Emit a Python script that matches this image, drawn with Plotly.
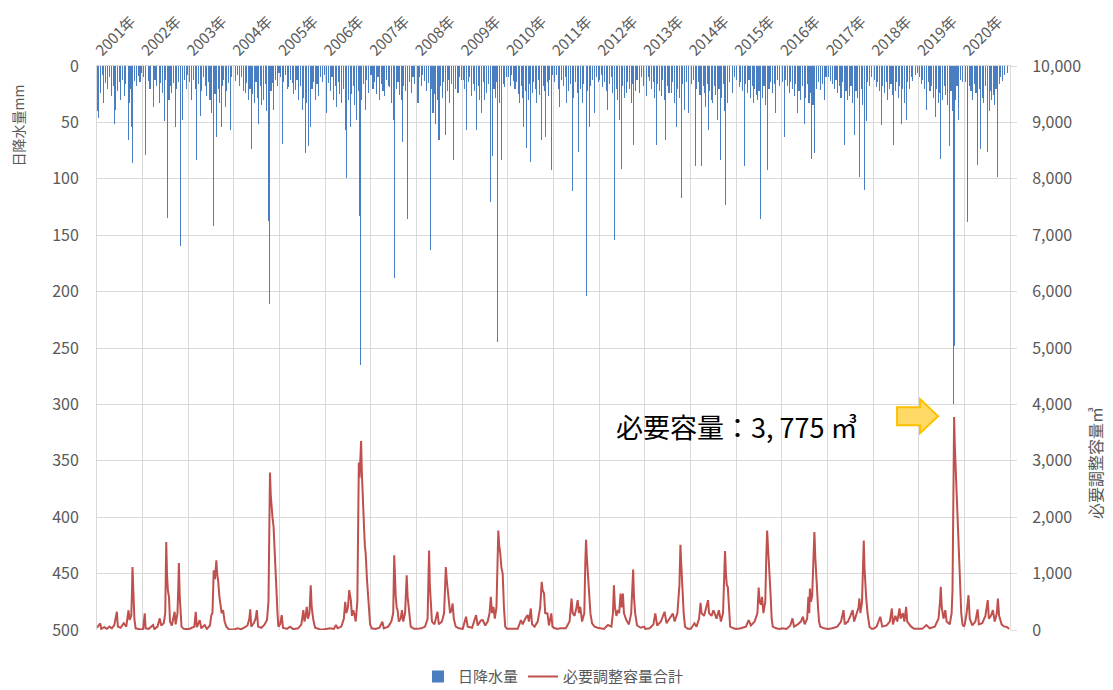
import pandas as pd
import plotly.graph_objects as go

# ---------------- data: daily rainfall events (day-of-year, mm) ----------------
rain_2001 = [(1,40),(16,46),(30,24),(42,8),(55,33),(70,15),(88,20),(100,10),(115,27),(130,18),(144,51),(152,39),(165,22),(178,14),(190,30),(205,12),(218,27),(232,16),(250,66),(258,33),(270,20),(280,54),(288,86),(300,13),(315,18),(330,9),(345,14),(358,6)]
rain_2002 = [(8,10),(27,79),(45,13),(60,20),(88,36),(100,12),(115,18),(133,33),(145,15),(160,24),(173,49),(185,12),(200,135),(212,30),(225,18),(235,24),(248,15),(261,54),(275,20),(290,14),(301,160),(320,48),(335,12),(350,20),(360,8)]
rain_2003 = [(10,14),(29,30),(45,12),(58,20),(70,83),(82,16),(96,44),(110,22),(125,10),(138,18),(150,27),(162,14),(175,30),(190,42),(203,142),(215,25),(229,63),(240,20),(252,33),(264,54),(275,18),(285,12),(296,36),(310,22),(323,15),(336,57),(350,10)]
rain_2004 = [(13,13),(28,8),(45,18),(60,10),(75,22),(93,24),(105,15),(118,30),(130,20),(141,74),(152,25),(165,33),(178,14),(190,28),(200,51),(212,18),(225,35),(240,30),(252,16),(265,40),(278,137),(285,211),(298,22),(310,15),(320,39),(335,12),(350,18),(362,6)]
rain_2005 = [(8,10),(21,69),(35,14),(50,8),(62,20),(75,19),(88,12),(101,15),(115,25),(128,21),(140,12),(152,30),(165,18),(181,39),(195,28),(208,77),(218,33),(229,71),(248,54),(260,20),(272,14),(285,30),(300,16),(315,27),(330,10),(345,14),(358,8)]
rain_2006 = [(14,42),(28,15),(40,22),(55,10),(68,30),(80,18),(94,36),(105,14),(118,25),(130,33),(145,20),(160,57),(173,99),(186,30),(200,54),(212,25),(225,18),(238,35),(254,48),(265,22),(275,133),(280,265),(290,30),(305,16),(320,39),(333,12),(347,24),(360,8)]
rain_2007 = [(5,8),(18,20),(30,14),(45,25),(58,10),(72,30),(85,16),(98,22),(112,27),(125,12),(140,18),(152,19),(165,33),(179,48),(192,188),(205,20),(218,14),(230,26),(243,30),(251,67),(265,18),(280,22),(296,136),(310,14),(323,24),(338,10),(352,16)]
rain_2008 = [(13,33),(25,10),(40,18),(52,8),(66,13),(80,22),(95,15),(112,163),(122,20),(133,42),(145,25),(154,51),(168,30),(181,66),(195,18),(208,28),(220,14),(234,61),(248,22),(256,12),(266,33),(280,16),(298,83),(312,20),(333,24),(348,10),(360,12)]
rain_2009 = [(10,12),(22,20),(35,57),(48,14),(60,10),(75,27),(88,16),(100,22),(115,57),(128,18),(140,30),(155,42),(168,14),(182,30),(195,24),(210,16),(227,121),(243,80),(255,20),(268,28),(278,14),(286,245),(298,33),(315,83),(328,16),(342,19),(356,10)]
rain_2010 = [(8,10),(20,18),(32,8),(45,13),(58,20),(70,14),(85,25),(98,33),(112,18),(122,28),(130,54),(140,22),(152,73),(165,30),(175,16),(186,85),(198,24),(210,14),(220,20),(232,33),(245,12),(258,26),(272,66),(285,18),(295,22),(306,63),(315,14),(325,27),(338,12),(352,92),(362,8)]
rain_2011 = [(10,14),(25,8),(40,20),(53,36),(66,12),(80,18),(95,10),(107,33),(120,22),(135,16),(152,111),(165,28),(178,14),(190,24),(205,76),(218,20),(232,33),(245,16),(262,204),(275,22),(288,54),(300,18),(315,12),(333,42),(348,10),(360,14)]
rain_2012 = [(8,12),(20,8),(32,19),(45,14),(58,22),(72,39),(85,16),(98,10),(112,24),(126,154),(138,20),(150,30),(165,48),(179,91),(190,18),(205,28),(219,24),(232,14),(245,20),(258,33),(268,16),(278,70),(290,22),(305,12),(325,24),(340,10),(355,18)]
rain_2013 = [(13,27),(28,10),(42,13),(55,20),(68,14),(80,28),(93,70),(105,16),(118,22),(133,27),(145,12),(156,30),(168,66),(180,18),(195,24),(213,24),(225,14),(238,33),(253,54),(265,20),(278,28),(293,117),(305,16),(320,39),(335,14),(354,42)]
rain_2014 = [(10,16),(25,12),(40,89),(52,20),(65,14),(78,26),(93,89),(105,18),(115,24),(125,36),(135,16),(144,57),(155,22),(168,30),(179,33),(192,18),(205,26),(219,48),(230,20),(240,83),(252,28),(265,16),(275,40),(285,123),(299,33),(315,14),(339,24),(355,10)]
rain_2015 = [(8,12),(27,19),(40,14),(52,22),(67,89),(80,16),(93,24),(105,12),(118,28),(130,18),(141,33),(152,20),(163,26),(173,30),(185,22),(200,136),(212,28),(225,18),(240,35),(253,92),(265,20),(280,14),(295,24),(308,16),(320,42),(335,12),(350,18)]
rain_2016 = [(10,14),(22,63),(35,12),(48,18),(62,24),(75,14),(88,20),(102,27),(115,16),(128,42),(140,22),(152,30),(165,18),(182,51),(195,28),(208,16),(220,33),(230,24),(240,82),(252,35),(267,77),(280,20),(295,14),(310,21),(325,16),(342,30),(356,10)]
rain_2017 = [(12,10),(26,13),(40,16),(55,20),(70,12),(85,24),(98,18),(110,28),(125,14),(138,70),(150,22),(163,30),(178,27),(190,18),(205,33),(218,61),(230,22),(245,28),(261,98),(272,20),(285,35),(298,110),(312,49),(325,14),(340,18),(355,10)]
rain_2018 = [(10,12),(27,19),(40,14),(55,22),(67,52),(80,18),(95,24),(108,14),(120,30),(133,20),(145,16),(155,26),(165,70),(178,22),(190,14),(202,28),(215,18),(227,51),(240,20),(252,33),(267,48),(280,14),(295,20),(308,10),(320,13),(340,8),(355,6)]
rain_2019 = [(8,10),(22,16),(35,12),(50,20),(67,39),(80,14),(92,22),(105,18),(118,28),(133,45),(145,20),(158,33),(168,24),(179,82),(192,30),(205,18),(218,26),(232,35),(248,71),(260,22),(270,40),(282,300),(285,248),(295,30),(308,18),(320,48),(335,12),(350,14)]
rain_2020 = [(10,14),(27,138),(40,18),(55,22),(67,30),(80,16),(95,24),(107,88),(120,20),(133,74),(145,28),(158,33),(170,18),(187,76),(200,40),(210,22),(219,30),(232,26),(245,35),(255,20),(267,98),(280,16),(292,10),(307,13),(325,8),(345,6)]

# ---------------- data: required storage capacity (day-of-year, m3) ----------------
cap_2001 = [(1,40),(15,80),(27,118),(35,20),(60,50),(80,20),(100,60),(120,30),(140,90),(160,323),(168,60),(190,40),(215,120),(235,60),(253,350),(262,180),(275,250),(280,600),(285,1117),(292,700),(300,200),(310,30),(330,20),(350,10)]
cap_2002 = [(5,20),(18,294),(25,30),(50,20),(85,88),(95,15),(120,60),(138,206),(150,80),(170,120),(182,300),(190,1558),(196,1000),(203,700),(212,588),(220,150),(235,80),(245,200),(257,323),(265,100),(280,300),(287,800),(291,1188),(298,600),(305,300),(312,60),(330,20),(350,15)]
cap_2003 = [(5,15),(30,40),(50,60),(61,323),(70,50),(93,176),(105,30),(133,88),(150,20),(175,80),(186,265),(195,300),(205,1058),(215,900),(226,1235),(232,1000),(240,882),(250,600),(258,470),(268,300),(280,353),(292,150),(306,59),(325,15),(350,10)]
cap_2004 = [(5,10),(30,30),(60,15),(90,50),(110,80),(125,200),(132,365),(140,60),(160,120),(175,200),(185,353),(195,60),(220,40),(245,90),(266,176),(278,500),(285,2500),(290,2794),(296,2400),(302,2176),(310,2000),(319,1823),(328,1300),(340,882),(350,300),(357,59)]
cap_2005 = [(5,100),(18,265),(28,40),(60,20),(84,59),(110,15),(150,30),(175,100),(191,353),(200,150),(210,250),(218,412),(228,200),(240,300),(250,794),(258,400),(271,176),(285,40),(320,15),(350,10)]
cap_2006 = [(5,20),(40,30),(70,20),(87,88),(100,30),(130,60),(150,200),(161,500),(170,300),(183,400),(193,706),(200,600),(206,529),(215,250),(225,350),(233,294),(245,150),(258,500),(265,2500),(270,2970),(276,2700),(282,3100),(288,3352),(294,2800),(299,2400),(304,2117),(312,1800),(318,1500),(325,1352),(335,900),(345,600),(352,412),(360,100)]
cap_2007 = [(8,30),(40,20),(70,40),(93,147),(105,30),(140,60),(165,150),(180,300),(188,1323),(194,900),(200,600),(208,400),(215,353),(225,150),(240,200),(250,353),(260,150),(275,300),(283,700),(288,970),(295,600),(302,400),(309,294),(320,60),(345,20)]
cap_2008 = [(5,20),(40,30),(70,60),(90,200),(97,900),(102,1411),(108,800),(115,400),(125,150),(145,100),(160,250),(169,323),(180,100),(205,150),(222,300),(230,800),(236,1117),(243,900),(250,700),(258,600),(270,300),(282,350),(290,470),(300,200),(315,60),(340,30),(360,20)]
cap_2009 = [(5,20),(32,235),(45,60),(80,40),(112,265),(125,80),(150,170),(166,176),(185,80),(205,150),(220,300),(230,588),(240,300),(251,412),(262,200),(275,400),(283,1200),(290,1764),(297,1500),(306,1352),(315,1100),(325,1000),(335,400),(345,59),(360,20)]
cap_2010 = [(5,20),(40,30),(80,20),(106,176),(120,100),(140,200),(159,265),(170,150),(185,382),(195,100),(215,60),(240,150),(260,400),(272,853),(280,700),(291,647),(300,300),(318,294),(330,80),(349,294),(358,60)]
cap_2011 = [(5,40),(30,20),(59,29),(100,30),(130,150),(146,559),(155,300),(170,250),(185,400),(195,529),(205,300),(216,412),(230,150),(248,300),(256,1200),(262,1600),(268,1300),(276,1000),(286,500),(297,294),(310,120),(330,59),(355,40)]
cap_2012 = [(5,30),(40,20),(72,88),(100,60),(112,300),(120,794),(128,400),(140,250),(152,353),(162,300),(173,647),(182,400),(192,647),(200,300),(219,176),(240,100),(258,300),(268,700),(274,1070),(280,600),(290,294),(305,80),(335,40),(362,59)]
cap_2013 = [(5,20),(40,30),(70,100),(85,294),(100,80),(130,150),(159,323),(175,120),(200,200),(225,294),(240,150),(262,300),(278,800),(286,1511),(292,1200),(298,900),(304,706),(312,300),(323,59),(345,20)]
cap_2014 = [(5,20),(33,118),(50,60),(70,200),(82,482),(90,300),(110,250),(125,400),(142,529),(150,300),(170,250),(185,350),(196,294),(210,200),(229,353),(245,150),(262,300),(272,900),(278,1400),(285,1000),(292,800),(300,765),(310,300),(319,59),(345,30)]
cap_2015 = [(5,20),(40,30),(80,60),(102,176),(120,80),(150,150),(172,300),(182,753),(190,500),(200,450),(209,588),(220,300),(235,500),(243,1300),(250,1764),(256,1500),(262,1300),(268,1117),(278,600),(286,200),(295,59),(320,30),(350,20)]
cap_2016 = [(5,30),(40,20),(70,80),(88,206),(100,60),(130,100),(155,150),(171,235),(185,100),(205,200),(215,588),(222,300),(227,735),(235,500),(245,600),(252,1200),(258,1600),(263,1735),(270,1300),(276,1000),(282,882),(292,400),(300,150),(310,59),(340,30)]
cap_2017 = [(5,20),(40,30),(80,60),(110,150),(130,353),(140,100),(165,150),(185,250),(203,353),(215,150),(235,300),(250,400),(257,559),(265,300),(278,500),(286,1200),(292,1588),(298,1100),(304,800),(311,588),(322,300),(338,59),(355,20)]
cap_2018 = [(5,20),(30,60),(59,235),(75,60),(110,80),(135,150),(152,382),(160,100),(180,250),(195,150),(213,382),(222,200),(240,300),(252,150),(266,412),(275,150),(290,100),(306,59),(330,20),(355,15)]
cap_2019 = [(5,15),(30,20),(63,88),(90,30),(130,60),(160,200),(172,500),(178,765),(186,400),(200,200),(214,353),(225,150),(250,100),(265,300),(272,700),(278,2058),(285,3775),(290,3300),(296,2940),(302,2600),(308,2410),(316,1900),(323,1470),(332,800),(342,294),(352,100),(362,60)]
cap_2020 = [(5,100),(20,300),(35,617),(45,200),(65,80),(90,150),(108,365),(118,100),(145,120),(170,250),(189,529),(198,200),(215,250),(230,353),(245,150),(262,300),(270,559),(280,250),(300,100),(320,60),(338,59),(360,20)]

years = list(range(2001, 2021))
rain_by_year = [rain_2001, rain_2002, rain_2003, rain_2004, rain_2005, rain_2006, rain_2007,
                rain_2008, rain_2009, rain_2010, rain_2011, rain_2012, rain_2013, rain_2014,
                rain_2015, rain_2016, rain_2017, rain_2018, rain_2019, rain_2020]
cap_by_year = [cap_2001, cap_2002, cap_2003, cap_2004, cap_2005, cap_2006, cap_2007,
               cap_2008, cap_2009, cap_2010, cap_2011, cap_2012, cap_2013, cap_2014,
               cap_2015, cap_2016, cap_2017, cap_2018, cap_2019, cap_2020]
year_labels = [f"{y}年" for y in years]

legend_rain = "日降水量"
legend_cap = "必要調整容量合計"
title_left = "日降水量mm"
title_right = "必要調整容量㎥"
note_text = "必要容量：3, 775 ㎥"


def to_dates(year, pairs):
    base = pd.Timestamp(year=year, month=1, day=1)
    return [base + pd.Timedelta(days=d - 1) for d, _ in pairs], [v for _, v in pairs]


rain_x, rain_y, cap_x, cap_y = [], [], [], []
for yr, rp, cp in zip(years, rain_by_year, cap_by_year):
    dx, dv = to_dates(yr, rp)
    rain_x += dx
    rain_y += dv
    dx, dv = to_dates(yr, cp)
    cap_x += dx
    cap_y += dv

year_ticks = [pd.Timestamp(year=y, month=1, day=1) for y in years]

FONT = "Noto Sans CJK JP"
GRID = "#D9D9D9"
TXT = "#595959"

fig = go.Figure()
fig.add_trace(go.Bar(
    x=rain_x, y=rain_y, name=legend_rain, yaxis="y",
    width=86400000, marker=dict(color="#4A7EC2", line=dict(width=0)),
))
fig.add_trace(go.Scatter(
    x=cap_x, y=cap_y, name=legend_cap, yaxis="y2", mode="lines",
    line=dict(color="#C0504D", width=2),
))

# the page body has an 8px default margin, so the figure is sized to fit inside the window
fig.update_layout(
    width=1105, height=682,
    margin=dict(l=89, r=103, t=58, b=60, autoexpand=False),
    paper_bgcolor="white", plot_bgcolor="white",
    font=dict(family=FONT, color=TXT, size=14),
    bargap=0,
    showlegend=True,
    legend=dict(orientation="h", x=0.5, xanchor="center", y=-0.083, yanchor="middle",
                font=dict(size=15, color=TXT), traceorder="normal"),
    xaxis=dict(
        type="date", side="top", automargin=False,
        range=["2001-01-01", "2021-01-01"],
        tickmode="array", tickvals=year_ticks, ticktext=year_labels,
        tickangle=-45,
        tickfont=dict(size=15, color=TXT),
        showgrid=True, gridcolor=GRID, gridwidth=1,
        showline=True, linecolor=GRID, ticks="", zeroline=False,
    ),
    yaxis=dict(
        range=[500, 0], dtick=50, tick0=0, automargin=False,
        tickfont=dict(size=16, color=TXT),
        showgrid=True, gridcolor=GRID, gridwidth=1,
        showline=True, linecolor=GRID, ticks="", zeroline=False,
        ticklabelstandoff=14,
    ),
    yaxis2=dict(
        overlaying="y", side="right", range=[0, 10000], dtick=1000, tick0=0,
        automargin=False,
        tickformat=",d", tickfont=dict(size=16, color=TXT),
        showgrid=False, showline=True, linecolor=GRID,
        ticks="outside", ticklen=6, tickcolor=GRID, zeroline=False,
        ticklabelstandoff=12,
    ),
    annotations=[
        dict(text=title_left, xref="paper", yref="paper", x=-0.0862, y=0.895,
             textangle=-90, showarrow=False, font=dict(size=14, color=TXT),
             xanchor="center", yanchor="middle"),
        dict(text=title_right, xref="paper", yref="paper", x=1.0931, y=0.296,
             textangle=-90, showarrow=False, font=dict(size=16, color=TXT),
             xanchor="center", yanchor="middle"),
        dict(text=note_text, xref="paper", yref="paper", x=0.701, y=0.360,
             showarrow=False, font=dict(size=27, color="black"),
             xanchor="center", yanchor="middle"),
    ],
    shapes=[
        dict(type="path", xref="paper", yref="paper",
             xsizemode="pixel", ysizemode="pixel",
             xanchor=0.9212, yanchor=0.3792,
             path="M 0,0 L -18,17 L -18,9 L -41,9 L -41,-9 L -18,-9 L -18,-17 Z",
             fillcolor="#FFD966", line=dict(color="#FFC000", width=2)),
    ],
)

fig.write_html("out.html")
